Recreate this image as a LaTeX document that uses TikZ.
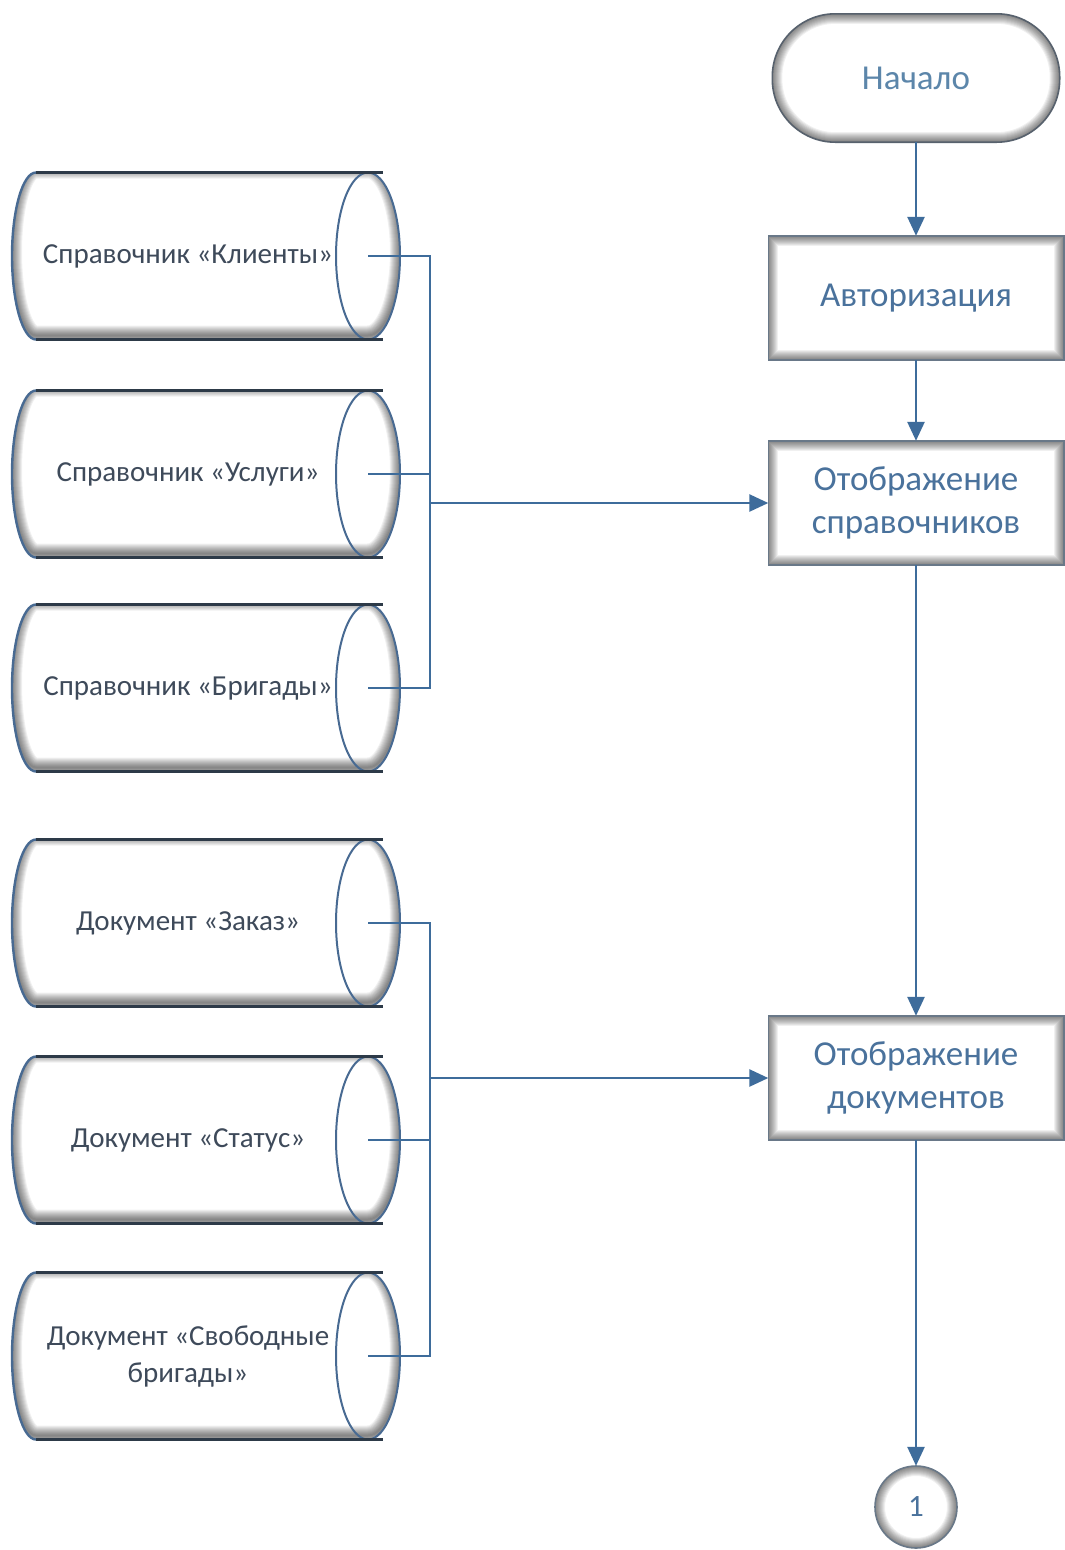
\documentclass[tikz,border=0pt]{standalone}
\usepackage{fontspec}
\setmainfont{Carlito}
\usetikzlibrary{arrows.meta,backgrounds}

\definecolor{flow}{RGB}{62,108,155}
\definecolor{boxtext}{RGB}{74,114,156}
\definecolor{termtext}{RGB}{92,134,170}
\definecolor{cyltext}{RGB}{62,74,90}
\definecolor{rimblue}{RGB}{72,106,146}
\definecolor{rimdark}{RGB}{45,58,72}
\definecolor{boxedge}{RGB}{105,120,136}

\tikzset{
  proc/.style={rectangle, minimum width=295pt, minimum height=124pt, inner sep=0pt,
    align=center, text=boxtext, font=\fontsize{35}{43}\selectfont},
  term/.style={rectangle, minimum width=287pt, minimum height=128pt, inner sep=0pt,
    align=center, text=termtext, font=\fontsize{35}{42}\selectfont},
  joint/.style={circle, minimum size=82pt, inner sep=0pt,
    text=boxtext, font=\fontsize{31}{36}\selectfont},
  store/.style={rectangle, minimum width=360pt, minimum height=167pt, inner sep=0pt,
    align=center, text=cyltext, font=\fontsize{29}{35}\selectfont},
  wire/.style={draw=flow, line width=2pt},
  flowarrow/.style={draw=flow, line width=2.6pt, -{Triangle[length=19pt,width=17pt]}},
  rim/.style={draw=boxedge, line width=1.6pt}
}

% soft shadow along the inside of a closed path, heavier towards the bottom
\newcommand\innershade[1]{%
  \begin{scope}
    \clip #1;
    \foreach \w in {2,4,...,20}
      {\draw[yshift=4pt, line width=\w pt, black, opacity=0.06] #1;}
  \end{scope}}

% horizontal data-store cylinder centred on row #1 (pixels from the top)
\newcommand\storeshape[1]{%
  \pgfmathsetmacro\sT{-(#1)+83.5}%
  \pgfmathsetmacro\sB{-(#1)-83.5}%
  \pgfmathsetmacro\sM{-(#1)}%
  \def\sbody{(36,\sT) -- (368,\sT) arc[start angle=90,end angle=-90,x radius=32pt,y radius=83.5pt]
     -- (36,\sB) arc[start angle=270,end angle=90,x radius=24pt,y radius=83.5pt] -- cycle}%
  \fill[white] \sbody;
  \innershade{\sbody}
  \draw[rimblue, line width=2pt] (368,\sM) ellipse[x radius=32pt, y radius=83.5pt];
  \draw[rimblue, line width=2.4pt] (36,\sT) arc[start angle=90,end angle=270,x radius=24pt,y radius=83.5pt];
  \draw[rimdark, line width=3pt] (36,\sT) -- (383,\sT) (36,\sB) -- (383,\sB);
}

\begin{document}
\begin{tikzpicture}[x=1pt,y=1pt]
  \useasboundingbox (0,0) rectangle (1065,-1550);

  % flow column
  \node[term] (start) at (916,-78) {Начало};
  \node[proc] (auth) at (916,-298) {Авторизация};
  \node[proc] (refs) at (916,-503) {Отображение\\справочников};
  \node[proc] (docs) at (916,-1078) {Отображение\\документов};
  \node[joint] (cont) at (916,-1507) {1};

  % data stores (node boxes end at the centre of each cylinder's cap)
  \node[store] (clients) at (188,-256) {Справочник «Клиенты»};
  \node[store] (services) at (188,-474) {Справочник «Услуги»};
  \node[store] (teams) at (188,-688) {Справочник «Бригады»};
  \node[store] (order) at (188,-923) {Документ «Заказ»};
  \node[store] (status) at (188,-1140) {Документ «Статус»};
  \node[store] (freeteams) at (188,-1356) {\raisebox{2pt}{Документ «Свободные}\\бригады»};

  \begin{scope}[on background layer]
    \fill[white] (0,0) rectangle (1065,-1550);

    \fill[white] (start.south west) [rounded corners=63pt] rectangle (start.north east);
    \innershade{[rounded corners=63pt] (start.south west) rectangle (start.north east)}
    \draw[rim, draw=rimdark!80] [rounded corners=63pt] (start.south west) rectangle (start.north east);

    \foreach \b in {auth,refs,docs} {
      \fill[white] (\b.south west) rectangle (\b.north east);
      \innershade{(\b.south west) rectangle (\b.north east)}
      \draw[rim] (\b.south west) rectangle (\b.north east);
    }

    \fill[white] (cont.center) circle[radius=41pt];
    \innershade{(cont.center) circle[radius=41pt]}
    \draw[rim] (cont.center) circle[radius=41pt];

    \foreach \r in {256,474,688,923,1140,1356} {\storeshape{\r}}
  \end{scope}

  % junction points of the two collecting lines
  \coordinate (busA1) at (430,-256);
  \coordinate (busA2) at (430,-474);
  \coordinate (busA3) at (430,-688);
  \coordinate (busAm) at (430,-503);
  \coordinate (busB1) at (430,-923);
  \coordinate (busB2) at (430,-1140);
  \coordinate (busB3) at (430,-1356);
  \coordinate (busBm) at (430,-1078);

  \draw[wire] (clients.east) -- (busA1) -- (busA3) -- (teams.east);
  \draw[wire] (services.east) -- (busA2);
  \draw[flowarrow] (busAm) -- (refs.west);

  \draw[wire] (order.east) -- (busB1) -- (busB3) -- (freeteams.east);
  \draw[wire] (status.east) -- (busB2);
  \draw[flowarrow] (busBm) -- (docs.west);

  \draw[flowarrow] (start.south) -- (auth.north);
  \draw[flowarrow] (auth.south) -- (refs.north);
  \draw[flowarrow] (refs.south) -- (docs.north);
  \draw[flowarrow] (docs.south) -- (cont.north);
\end{tikzpicture}
\end{document}
